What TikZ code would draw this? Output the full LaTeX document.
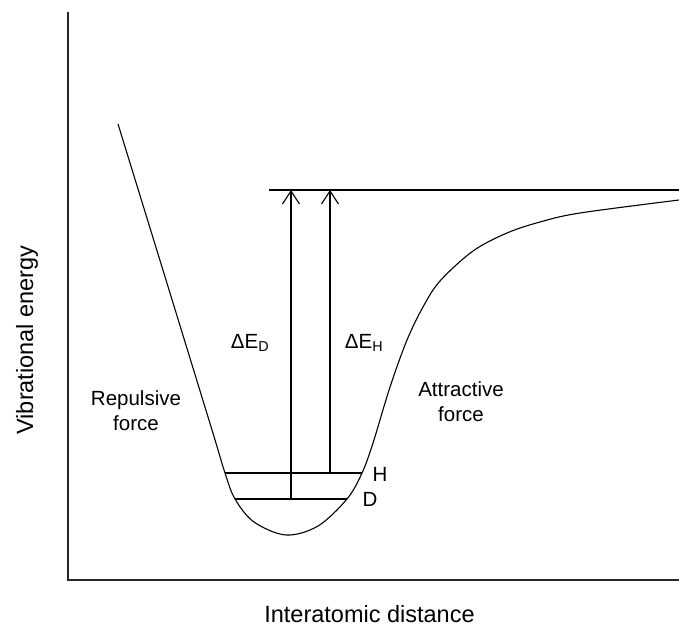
\documentclass[tikz,border=0pt]{standalone}
\usepackage{fontspec}
\setmainfont{Liberation Sans}
\usetikzlibrary{arrows.meta}

\begin{document}
\begin{tikzpicture}[
  x=1pt, y=-1pt,
  axis/.style={line width=1.8pt, black!85},
  curve/.style={line width=1.1pt, black},
  level/.style={line width=1.1pt, black},
  arr/.style={line width=1.1pt, black, -{Straight Barb[length=13pt, width=17pt, line width=1.1pt]}},
  lbl/.style={font=\fontsize{20.5}{25}\selectfont, align=center, inner sep=0pt},
  axlbl/.style={font=\fontsize{23.5}{28}\selectfont, inner sep=0pt}
]
\useasboundingbox (0,0) rectangle (679,628);
% Axes
\coordinate (O) at (68,580);
\coordinate (ytop) at (68,12);
\coordinate (xend) at (679,580);
\draw[axis] (ytop) -- (O) -- (xend);
\node[axlbl, rotate=90] (ylab) at (27,340) {Vibrational energy};
\node[axlbl] (xlab) at (369.5,614) {Interatomic distance};
% Potential curve
\draw[curve] plot[smooth, tension=0.55] coordinates {
  (118,124) (166,280) (212,430) (225,473) (235,499) (254,522) (286,535)
  (318,526) (347,499) (362,473) (373,443) (390,387) (407,340) (423,307)
  (440,281) (473,251) (507,233) (540,222) (580,213) (679,200)};
% Energy levels
\coordinate (Hl) at (225,473);
\coordinate (Hr) at (362,473);
\coordinate (Dl) at (235,499);
\coordinate (Dr) at (347,499);
\draw[level] (Hl) -- (Hr);
\draw[level] (Dl) -- (Dr);
\node[lbl] (H) at (380,474) {H};
\node[lbl] (D) at (370,499) {D};
% Dissociation limit
\coordinate (lim) at (269,190);
\coordinate (limr) at (679,190);
\draw[level] (lim) -- (limr);
% Arrows
\coordinate (Dfoot) at (291,499);
\coordinate (Dtop) at (291,190);
\coordinate (Hfoot) at (330,473);
\coordinate (Htop) at (330,190);
\draw[arr] (Dfoot) -- (Dtop);
\draw[arr] (Hfoot) -- (Htop);
\node[lbl] (dED) at (250,343) {ΔE\textsubscript{D}};
\node[lbl] (dEH) at (364,343) {ΔE\textsubscript{H}};
% Forces
\node[lbl] (rep) at (136,411) {Repulsive\\force};
\node[lbl] (att) at (461,402) {Attractive\\force};
\end{tikzpicture}
\end{document}
